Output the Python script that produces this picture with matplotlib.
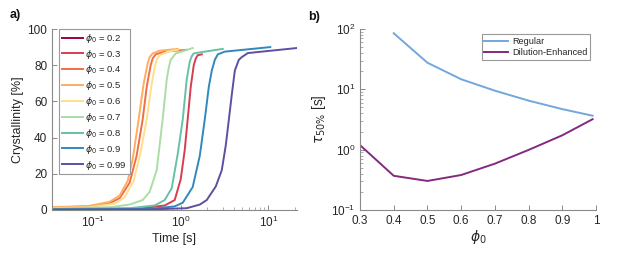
import matplotlib
matplotlib.use("Agg")
import matplotlib.pyplot as plt
from matplotlib.ticker import LogLocator, NullFormatter, FixedLocator

plt.rcParams['font.family'] = ['Liberation Sans', 'DejaVu Sans']
plt.rcParams['mathtext.fontset'] = 'dejavusans'

# ---------------- data: panel a ----------------
phi_labels = ['0.2', '0.3', '0.4', '0.5', '0.6', '0.7', '0.8', '0.9', '0.99']
colors_a = ['#9e0142', '#d53e4f', '#f46d43', '#fdae61', '#fee08b',
            '#abdda4', '#66c2a5', '#3288bd', '#5e4fa2']

t_02 = [0.034, 0.62]
y_02 = [0.0, 0.0]

t_03 = [0.034, 0.34, 0.656, 0.854, 1.0, 1.11, 1.20, 1.30, 1.408, 1.48, 1.56, 1.74]
y_03 = [0.3, 0.8, 2.5, 5.5, 17, 33, 50, 68, 80, 83.5, 85.5, 86]

t_04 = [0.034, 0.091, 0.154, 0.201, 0.261, 0.314, 0.368, 0.409, 0.454, 0.479, 0.518, 0.656, 1.17]
y_04 = [1.3, 2.0, 3.8, 6.5, 15, 30, 50, 68, 80, 83.8, 86, 87.5, 88.5]

t_05 = [0.034, 0.091, 0.154, 0.201, 0.248, 0.283, 0.331, 0.378, 0.42, 0.442, 0.479, 0.575, 0.924]
y_05 = [1.5, 2.3, 4.5, 8, 16, 28, 50, 70, 81, 84.5, 86.5, 88, 89]

t_06 = [0.034, 0.091, 0.176, 0.229, 0.29, 0.349, 0.409, 0.454, 0.505, 0.532, 0.575, 0.71, 0.924]
y_06 = [1.0, 1.5, 3.5, 7, 16, 32, 50, 66, 79, 83, 85.5, 87.5, 88.5]

t_07 = [0.034, 0.154, 0.261, 0.368, 0.442, 0.532, 0.622, 0.692, 0.729, 0.769, 0.877, 1.11, 1.37]
y_07 = [0.8, 1.5, 3, 5.5, 10, 22, 50, 72, 78.5, 83, 86.5, 88, 89.5]

t_08 = [0.034, 0.261, 0.505, 0.656, 0.789, 0.924, 1.054, 1.17, 1.267, 1.336, 1.408, 1.88, 3.02]
y_08 = [0.5, 1.0, 2.5, 5.5, 12, 31, 50, 72, 82, 85, 86.5, 87.5, 89]

t_09 = [0.034, 0.442, 0.854, 1.054, 1.37, 1.65, 1.88, 2.09, 2.26, 2.45, 2.65, 3.18, 10.5]
y_09 = [0.3, 0.6, 2, 4, 12.7, 30, 50, 68, 77, 83, 86, 87.5, 90]

t_099 = [0.034, 0.442, 1.17, 1.65, 1.98, 2.51, 2.94, 3.27, 3.54, 3.83, 4.14, 4.6, 4.98, 5.83, 21.2]
y_099 = [0.2, 0.3, 1, 3, 5.5, 13, 22, 36, 50, 64, 77, 83, 84.5, 86.7, 89.5]

curves_t = [t_02, t_03, t_04, t_05, t_06, t_07, t_08, t_09, t_099]
curves_y = [y_02, y_03, y_04, y_05, y_06, y_07, y_08, y_09, y_099]

# ---------------- data: panel b ----------------
phi_reg = [0.4, 0.5, 0.6, 0.7, 0.8, 0.9, 0.99]
tau_reg = [85, 27.6, 14.7, 9.5, 6.5, 4.7, 3.65]
phi_dil = [0.3, 0.4, 0.5, 0.6, 0.7, 0.8, 0.9, 0.99]
tau_dil = [1.19, 0.369, 0.303, 0.38, 0.586, 0.99, 1.73, 3.2]
b_xticks = [0.3, 0.4, 0.5, 0.6, 0.7, 0.8, 0.9, 1.0]
b_xticklabels = ['0.3', '0.4', '0.5', '0.6', '0.7', '0.8', '0.9', '1']

W, H = 625, 259
fig = plt.figure(figsize=(W / 100, H / 100), dpi=100)

spine_c = '#8a8a8a'
text_c = '#262626'


def style(ax):
    for s in ['top', 'right']:
        ax.spines[s].set_visible(False)
    for s in ['left', 'bottom']:
        ax.spines[s].set_color(spine_c)
        ax.spines[s].set_linewidth(0.8)
    ax.tick_params(which='both', direction='in', colors=spine_c,
                   labelcolor=text_c, labelsize=8.5)
    ax.tick_params(which='major', length=3.5, width=0.7)
    ax.tick_params(which='minor', length=2, width=0.5)


# panel a
axa = fig.add_axes([52 / W, 1 - 210 / H, 245 / W, 181 / H])
for tt, yy, c, lab in zip(curves_t, curves_y, colors_a, phi_labels):
    axa.plot(tt, yy, color=c, lw=1.4, label=r'$\phi_0$ = ' + lab,
             solid_joinstyle='round')
axa.set_xscale('log')
axa.set_xlim(0.034, 21.2)
axa.set_ylim(0, 100)
axa.set_yticks([0, 20, 40, 60, 80, 100])
axa.xaxis.set_major_locator(LogLocator(base=10, numticks=10))
axa.xaxis.set_minor_locator(LogLocator(base=10, subs=range(2, 10), numticks=20))
axa.xaxis.set_minor_formatter(NullFormatter())
style(axa)
axa.set_xlabel('Time [s]', fontsize=9, color=text_c, labelpad=2)
axa.set_ylabel('Crystallinity [%]', fontsize=9, color=text_c, labelpad=2)
leg = axa.legend(loc='upper left', bbox_to_anchor=(0.028, 1.0), fontsize=6.8,
                 frameon=True, fancybox=False, framealpha=1, edgecolor='#999999',
                 handlelength=2.3, handletextpad=0.2, labelspacing=0.3,
                 borderpad=0.3, borderaxespad=0)
leg.get_frame().set_linewidth(0.8)
for tx in leg.get_texts():
    tx.set_color(text_c)

# panel b
axb = fig.add_axes([360 / W, 1 - 210 / H, 236 / W, 181 / H])
axb.plot(phi_reg, tau_reg, color='#72a7dc', lw=1.4, label='Regular')
axb.plot(phi_dil, tau_dil, color='#822a80', lw=1.4, label='Dilution-Enhanced')
axb.set_yscale('log')
axb.set_ylim(0.1, 100)
axb.set_xlim(0.3, 1.0)
axb.xaxis.set_major_locator(FixedLocator(b_xticks))
axb.set_xticklabels(b_xticklabels)
axb.yaxis.set_major_locator(LogLocator(base=10, numticks=10))
axb.yaxis.set_minor_locator(LogLocator(base=10, subs=range(2, 10), numticks=20))
axb.yaxis.set_minor_formatter(NullFormatter())
style(axb)
axb.set_xlabel(r'$\phi_0$', fontsize=10, color=text_c, labelpad=1)
axb.set_ylabel(r'$\tau_{50\%}$ [s]', fontsize=10, color=text_c, labelpad=2)
legb = axb.legend(loc='upper right', bbox_to_anchor=(0.975, 0.97), fontsize=6.6,
                  frameon=True, fancybox=False, framealpha=1, edgecolor='#999999',
                  handlelength=2.6, handletextpad=0.4, labelspacing=0.2,
                  borderpad=0.3, borderaxespad=0)
legb.get_frame().set_linewidth(0.8)
for tx in legb.get_texts():
    tx.set_color(text_c)

fig.text(10 / W, 1 - 18 / H, 'a)', fontsize=9, fontweight='bold', color='#111111')
fig.text(308 / W, 1 - 20 / H, 'b)', fontsize=9, fontweight='bold', color='#111111')

fig.savefig('out.png', dpi=100)
